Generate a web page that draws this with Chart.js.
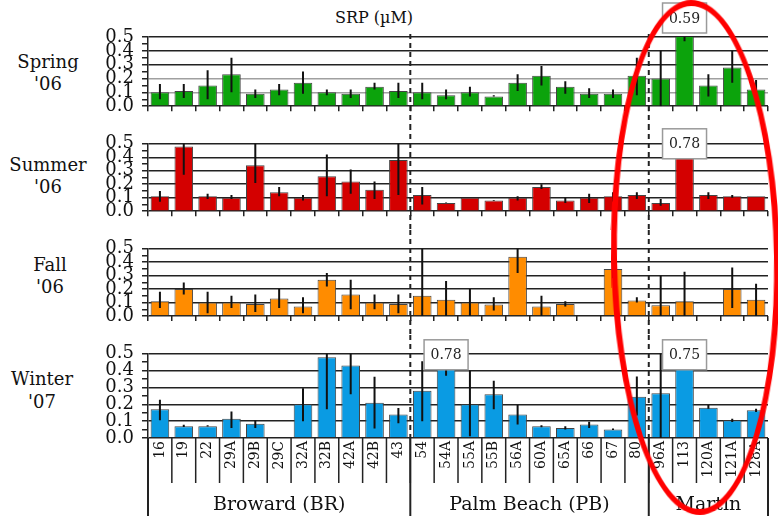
<!DOCTYPE html>
<html>
<head>
<meta charset="utf-8">
<script src="https://cdn.jsdelivr.net/npm/chart.js@4/dist/chart.umd.min.js"></script>
<style>
  body { margin: 0; width: 778px; height: 519px; position: relative; overflow: hidden; background: #fff; font-family: 'DejaVu Serif', serif; color: #111; }
  canvas { position: absolute; left: 0; }
  .row { position: absolute; width: 96px; text-align: center; font-size: 18px; line-height: 22px; }
  #title { position: absolute; left: 314px; top: 8px; width: 120px; text-align: center; font-size: 16px; }
  #ring { position: absolute; left: 611px; top: 0px; width: 157px; height: 503px; border: 6px solid #f00; border-radius: 50%; transform: rotate(-1deg); }
</style>
</head>
<body>
<div id="title">SRP (µM)</div>
<div class="row" style="left:0px;top:51px">Spring<br>'06</div>
<div class="row" style="left:0px;top:154px">Summer<br>'06</div>
<div class="row" style="left:2px;top:254px">Fall<br>'06</div>
<div class="row" style="left:-6px;top:367px;line-height:23px">Winter<br>'07</div>

<canvas id="spring" width="778" height="125" style="top:0px"></canvas>
<canvas id="summer" width="778" height="105" style="top:125px"></canvas>
<canvas id="fall" width="778" height="105" style="top:230px"></canvas>
<canvas id="winter" width="778" height="184" style="top:335px"></canvas>
<div id="ring"></div>

<script>
// sites, grouped by county
const categories = ['16','19','22','29A','29B','29C','32A','32B','42A','42B','43',
  '54','54A','55A','55B','56A','60A','65A','66','67','80',
  '96A','113','120A','121A','128A'];
const groupNames = ['Broward (BR)', 'Palm Beach (PB)', 'Martin'];
const groupSizes = [11, 10, 5];
const yMin = 0, yMax = 0.5;

// SRP means and error bar ends (null = no bar / no error bar)
const spring   = [0.10,0.11,0.15,0.23,0.09,0.12,0.17,0.10,0.09,0.14,0.11, 0.10,0.08,0.10,0.07,0.17,0.22,0.14,0.09,0.09,0.22, 0.20,0.59,0.15,0.28,0.12];
const springLo = [0.05,0.06,0.05,0.10,0.06,0.08,0.09,0.08,0.06,0.12,0.06, 0.05,0.05,0.07,0.07,0.11,0.15,0.09,0.06,0.06,0.08, 0.00,0.47,0.07,0.17,0.06];
const springHi = [0.16,0.16,0.26,0.35,0.12,0.16,0.25,0.12,0.12,0.17,0.17, 0.17,0.12,0.14,0.08,0.23,0.29,0.18,0.13,0.12,0.35, 0.40,0.71,0.23,0.40,0.19];

const summer   = [0.11,0.48,0.11,0.10,0.34,0.14,0.10,0.26,0.22,0.16,0.38, 0.12,0.06,0.10,0.08,0.10,0.18,0.08,0.10,0.11,0.12, 0.06,0.78,0.12,0.11,0.11];
const summerLo = [0.07,0.27,0.09,0.09,0.21,0.11,0.08,0.11,0.13,0.09,0.12, 0.05,0.06,null,0.075,0.08,0.165,0.06,0.06,0.07,0.09, 0.04,null,0.09,0.10,null];
const summerHi = [0.15,0.52,0.13,0.12,0.52,0.18,0.12,0.42,0.31,0.22,0.52, 0.18,0.065,null,0.082,0.11,0.20,0.10,0.13,0.14,0.14, 0.09,null,0.14,0.12,null];

const fall   = [0.11,0.20,0.10,0.10,0.09,0.13,0.07,0.27,0.16,0.10,0.09, 0.15,0.12,0.10,0.085,0.44,0.07,0.09,null,0.35,0.115, 0.08,0.11,null,0.20,0.12];
const fallLo = [0.06,0.16,0.02,0.06,0.03,0.06,0.02,0.22,0.05,0.05,0.02, 0.00,0.00,0.00,0.04,0.32,0.00,0.07,null,0.28,0.10, 0.00,0.00,null,0.06,0.00];
const fallHi = [0.18,0.25,0.18,0.15,0.16,0.20,0.14,0.32,0.27,0.16,0.16, 0.52,0.26,0.20,0.14,0.52,0.15,0.11,null,0.42,0.14, 0.30,0.33,null,0.36,0.24];

const winter   = [0.17,0.07,0.07,0.115,0.085,null,0.20,0.48,0.43,0.21,0.14, 0.28,0.78,0.20,0.26,0.14,0.07,0.06,0.08,0.05,0.245, 0.265,0.75,0.18,0.105,0.165];
const winterLo = [0.105,0.065,0.068,0.06,0.06,null,0.10,0.17,0.26,0.056,0.087, 0.10,0.37,0.01,0.17,0.08,0.064,0.05,0.06,0.047,0.133, 0.00,null,0.173,0.095,0.155];
const winterHi = [0.227,0.078,0.075,0.158,0.105,null,0.296,0.52,0.52,0.364,0.178, 0.456,1.2,0.40,0.34,0.196,0.075,0.07,0.096,0.056,0.365, 0.60,null,0.196,0.115,0.173];

function isMajor(v) { return Math.abs(v * 10 - Math.round(v * 10)) < 1e-6; }

const decor = {
  id: 'decor',
  afterDatasetsDraw(chart, args, o) {
    const { ctx, chartArea: a } = chart;
    const x = chart.scales.x, y = chart.scales.y;
    const half = (x.getPixelForValue(1) - x.getPixelForValue(0)) / 2;
    const edge = i => x.getPixelForValue(i) - half;
    const vals = chart.data.datasets[0].data;

    // error bars
    ctx.save();
    ctx.beginPath();
    ctx.rect(a.left, a.top, a.right - a.left, a.bottom - a.top);
    ctx.clip();
    ctx.strokeStyle = '#111';
    ctx.lineWidth = 2;
    o.lo.forEach((lo, i) => {
      if (lo == null) return;
      const px = x.getPixelForValue(i);
      ctx.beginPath();
      ctx.moveTo(px, y.getPixelForValue(lo));
      ctx.lineTo(px, y.getPixelForValue(o.hi[i]));
      ctx.stroke();
    });
    ctx.restore();

    // county dividers
    let n = 0;
    const cuts = [0].concat(groupSizes.map(s => (n += s)));
    ctx.save();
    ctx.strokeStyle = '#222';
    ctx.lineWidth = 2;
    ctx.setLineDash([5, 4]);
    cuts.slice(1, -1).forEach(c => {
      const px = edge(c);
      ctx.beginPath();
      ctx.moveTo(px, o.first ? a.top - 3 : 0);
      ctx.lineTo(px, o.last ? a.bottom : chart.height);
      ctx.stroke();
    });
    ctx.restore();

    // values past the axis top
    vals.forEach((v, i) => {
      if (v == null || v <= y.max) return;
      const px = x.getPixelForValue(i), cy = a.top + o.boxDy;
      ctx.save();
      ctx.fillStyle = '#fff';
      ctx.strokeStyle = '#9a9a9a';
      ctx.lineWidth = 1.5;
      ctx.fillRect(px - 22, cy - 15, 44, 30);
      ctx.strokeRect(px - 22, cy - 15, 44, 30);
      ctx.fillStyle = '#222';
      ctx.font = '14px "DejaVu Serif"';
      ctx.textAlign = 'center';
      ctx.textBaseline = 'middle';
      ctx.fillText(v.toFixed(2), px, cy + 1);
      ctx.restore();
    });

    if (!o.last) return;
    // site separators, county lines and names under the bottom panel
    ctx.save();
    ctx.strokeStyle = '#222';
    ctx.lineWidth = 1.5;
    for (let i = 0; i <= categories.length; i++) {
      const px = edge(i);
      ctx.beginPath();
      ctx.moveTo(px, a.bottom);
      ctx.lineTo(px, a.bottom + 45);
      ctx.stroke();
    }
    ctx.lineWidth = 2;
    cuts.forEach(c => {
      const px = edge(c);
      ctx.beginPath();
      ctx.moveTo(px, a.bottom);
      ctx.lineTo(px, chart.height - 3);
      ctx.stroke();
    });
    ctx.fillStyle = '#111';
    ctx.font = '19px "DejaVu Serif"';
    ctx.textAlign = 'center';
    ctx.textBaseline = 'middle';
    groupNames.forEach((g, k) => {
      ctx.fillText(g, (edge(cuts[k]) + edge(cuts[k + 1])) / 2, chart.height - 14);
    });
    ctx.restore();
  }
};

function makePanel(id, cfg) {
  const top = cfg.top, plotTop = cfg.plotTop, plotBottom = cfg.plotBottom, h = cfg.height;
  new Chart(document.getElementById(id), {
    type: 'bar',
    data: {
      labels: categories,
      datasets: [{
        data: cfg.values,
        backgroundColor: cfg.color,
        borderColor: '#444',
        borderWidth: 1,
        barPercentage: 0.78,
        categoryPercentage: 1
      }]
    },
    options: {
      responsive: false,
      animation: false,
      layout: { padding: { top: plotTop - top, right: 10, left: 0, bottom: 0 } },
      plugins: {
        legend: { display: false },
        tooltip: { enabled: false },
        decor: { lo: cfg.lo, hi: cfg.hi, boxDy: cfg.boxDy, first: !!cfg.first, last: !!cfg.last }
      },
      scales: {
        x: {
          grid: { drawOnChartArea: false, drawTicks: !cfg.last, tickLength: 5, color: '#222', lineWidth: 1.5 },
          border: { display: false },
          ticks: {
            display: !!cfg.last, autoSkip: false, minRotation: 90, maxRotation: 90, padding: 3,
            color: '#111', font: { family: 'DejaVu Serif', size: 14 }
          },
          afterFit(s) { s.height = top + h - plotBottom; }
        },
        y: {
          min: yMin,
          max: yMax,
          ticks: {
            stepSize: 0.05, autoSkip: false, padding: 8, color: '#111',
            font: { family: 'DejaVu Serif', size: 18 },
            callback: v => (isMajor(v) ? v.toFixed(1) : '')
          },
          grid: {
            lineWidth: 1.5,
            tickLength: 6,
            tickColor: '#222',
            color: c => {
              const v = c.tick.value;
              if (!isMajor(v)) return 'rgba(0,0,0,0)';
              if (cfg.faint && cfg.faint.some(f => Math.abs(f - v) < 1e-6)) return '#a0a0a0';
              return '#222';
            }
          },
          border: { color: '#222', width: 1.5 },
          afterFit(s) { s.width = 148; }
        }
      }
    },
    plugins: [decor]
  });
}

makePanel('spring', { top: 0, height: 125, plotTop: 37, plotBottom: 112, values: spring, lo: springLo, hi: springHi, color: '#0ca30c', boxDy: -19, first: true, faint: [0.1, 0.2] });
makePanel('summer', { top: 125, height: 105, plotTop: 141, plotBottom: 217, values: summer, lo: summerLo, hi: summerHi, color: '#d40000', boxDy: 0 });
makePanel('fall', { top: 230, height: 105, plotTop: 246, plotBottom: 316, values: fall, lo: fallLo, hi: fallHi, color: '#ff8c00', boxDy: 0 });
makePanel('winter', { top: 335, height: 184, plotTop: 346, plotBottom: 438, values: winter, lo: winterLo, hi: winterHi, color: '#0a9be3', boxDy: 1, last: true });
</script>
</body>
</html>
